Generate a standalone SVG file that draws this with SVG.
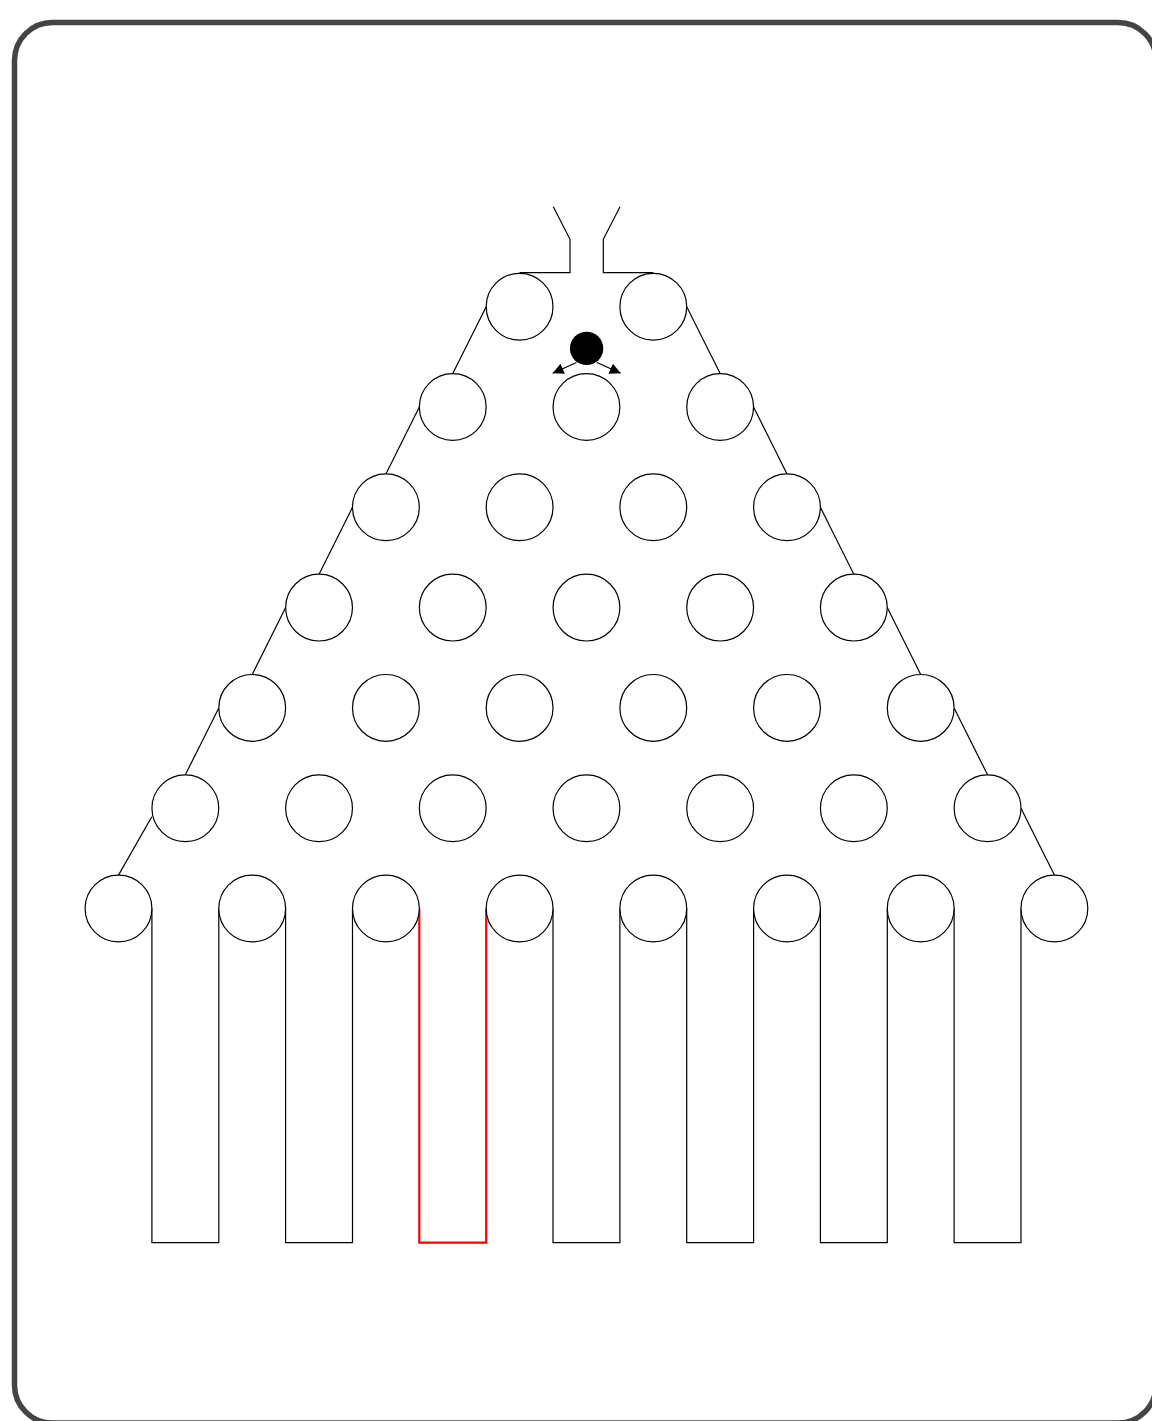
<svg xmlns="http://www.w3.org/2000/svg" width="1152" height="1421" viewBox="0 0 1152 1421">
<style>
.peg{fill:#fff;stroke:#000;stroke-width:1.2}
.ln{fill:none;stroke:#000;stroke-width:1.2}
.red{fill:none;stroke:#f00;stroke-width:2.2}
.frame{fill:#fff;stroke:#444;stroke-width:5.5}
</style>
<defs>
<marker id="ah" viewBox="0 0 10 10" refX="10" refY="5" markerWidth="16" markerHeight="11" markerUnits="userSpaceOnUse" orient="auto"><path d="M0,0 L10,5 L0,10 z" fill="#000"/></marker>
</defs>
<rect class="frame" x="14.5" y="22.5" width="1141.5" height="1400.5" rx="38" ry="38"/>
<g id="connectors">
<polyline class="ln" points="553.3,206.7 570,239.3 570,272.7 519.6,272.7"/>
<polyline class="ln" points="620,206.7 603.3,239.3 603.3,272.7 653.3,272.7"/>
<line class="ln" x1="486.2" y1="306.7" x2="452.75" y2="373.6"/>
<line class="ln" x1="419.35" y1="407" x2="385.9" y2="473.9"/>
<line class="ln" x1="352.5" y1="507.3" x2="319.05" y2="574.2"/>
<line class="ln" x1="285.65" y1="607.6" x2="252.2" y2="674.5"/>
<line class="ln" x1="218.8" y1="707.9" x2="185.35" y2="774.8"/>
<line class="ln" x1="151.8" y1="816.7" x2="118.5" y2="875.1"/>
<line class="ln" x1="686.7" y1="306.7" x2="720.15" y2="373.6"/>
<line class="ln" x1="753.55" y1="407" x2="787" y2="473.9"/>
<line class="ln" x1="820.4" y1="507.3" x2="853.85" y2="574.2"/>
<line class="ln" x1="887.25" y1="607.6" x2="920.7" y2="674.5"/>
<line class="ln" x1="954.1" y1="707.9" x2="987.55" y2="774.8"/>
<line class="ln" x1="1020.95" y1="808.2" x2="1054.4" y2="875.1"/>
<polyline class="ln" points="151.9,908.5 151.9,1242.7 218.8,1242.7 218.8,908.5"/>
<polyline class="ln" points="285.6,908.5 285.6,1242.7 352.5,1242.7 352.5,908.5"/>
<polyline class="red" points="419.3,908.5 419.3,1242.7 486.2,1242.7 486.2,908.5"/>
<polyline class="ln" points="553,908.5 553,1242.7 619.9,1242.7 619.9,908.5"/>
<polyline class="ln" points="686.7,908.5 686.7,1242.7 753.6,1242.7 753.6,908.5"/>
<polyline class="ln" points="820.4,908.5 820.4,1242.7 887.3,1242.7 887.3,908.5"/>
<polyline class="ln" points="954.1,908.5 954.1,1242.7 1021,1242.7 1021,908.5"/>
<line class="ln" x1="576.5" y1="362.5" x2="552.7" y2="373.3" marker-end="url(#ah)"/>
<line class="ln" x1="596.9" y1="362.5" x2="620.7" y2="373.3" marker-end="url(#ah)"/>
</g>
<g id="ball"><circle cx="586.6" cy="348.4" r="16.7" fill="#000"/></g>
<g id="row0">
<circle class="peg" cx="519.6" cy="306.7" r="33.4"/><circle class="peg" cx="653.3" cy="306.7" r="33.4"/>
</g>
<g id="row1">
<circle class="peg" cx="452.75" cy="407" r="33.4"/><circle class="peg" cx="586.45" cy="407" r="33.4"/><circle class="peg" cx="720.15" cy="407" r="33.4"/>
</g>
<g id="row2">
<circle class="peg" cx="385.9" cy="507.3" r="33.4"/><circle class="peg" cx="519.6" cy="507.3" r="33.4"/><circle class="peg" cx="653.3" cy="507.3" r="33.4"/><circle class="peg" cx="787" cy="507.3" r="33.4"/>
</g>
<g id="row3">
<circle class="peg" cx="319.05" cy="607.6" r="33.4"/><circle class="peg" cx="452.75" cy="607.6" r="33.4"/><circle class="peg" cx="586.45" cy="607.6" r="33.4"/><circle class="peg" cx="720.15" cy="607.6" r="33.4"/><circle class="peg" cx="853.85" cy="607.6" r="33.4"/>
</g>
<g id="row4">
<circle class="peg" cx="252.2" cy="707.9" r="33.4"/><circle class="peg" cx="385.9" cy="707.9" r="33.4"/><circle class="peg" cx="519.6" cy="707.9" r="33.4"/><circle class="peg" cx="653.3" cy="707.9" r="33.4"/><circle class="peg" cx="787" cy="707.9" r="33.4"/><circle class="peg" cx="920.7" cy="707.9" r="33.4"/>
</g>
<g id="row5">
<circle class="peg" cx="185.35" cy="808.2" r="33.4"/><circle class="peg" cx="319.05" cy="808.2" r="33.4"/><circle class="peg" cx="452.75" cy="808.2" r="33.4"/><circle class="peg" cx="586.45" cy="808.2" r="33.4"/><circle class="peg" cx="720.15" cy="808.2" r="33.4"/><circle class="peg" cx="853.85" cy="808.2" r="33.4"/><circle class="peg" cx="987.55" cy="808.2" r="33.4"/>
</g>
<g id="row6">
<circle class="peg" cx="118.5" cy="908.5" r="33.4"/><circle class="peg" cx="252.2" cy="908.5" r="33.4"/><circle class="peg" cx="385.9" cy="908.5" r="33.4"/><circle class="peg" cx="519.6" cy="908.5" r="33.4"/><circle class="peg" cx="653.3" cy="908.5" r="33.4"/><circle class="peg" cx="787" cy="908.5" r="33.4"/><circle class="peg" cx="920.7" cy="908.5" r="33.4"/><circle class="peg" cx="1054.4" cy="908.5" r="33.4"/>
</g>
</svg>
